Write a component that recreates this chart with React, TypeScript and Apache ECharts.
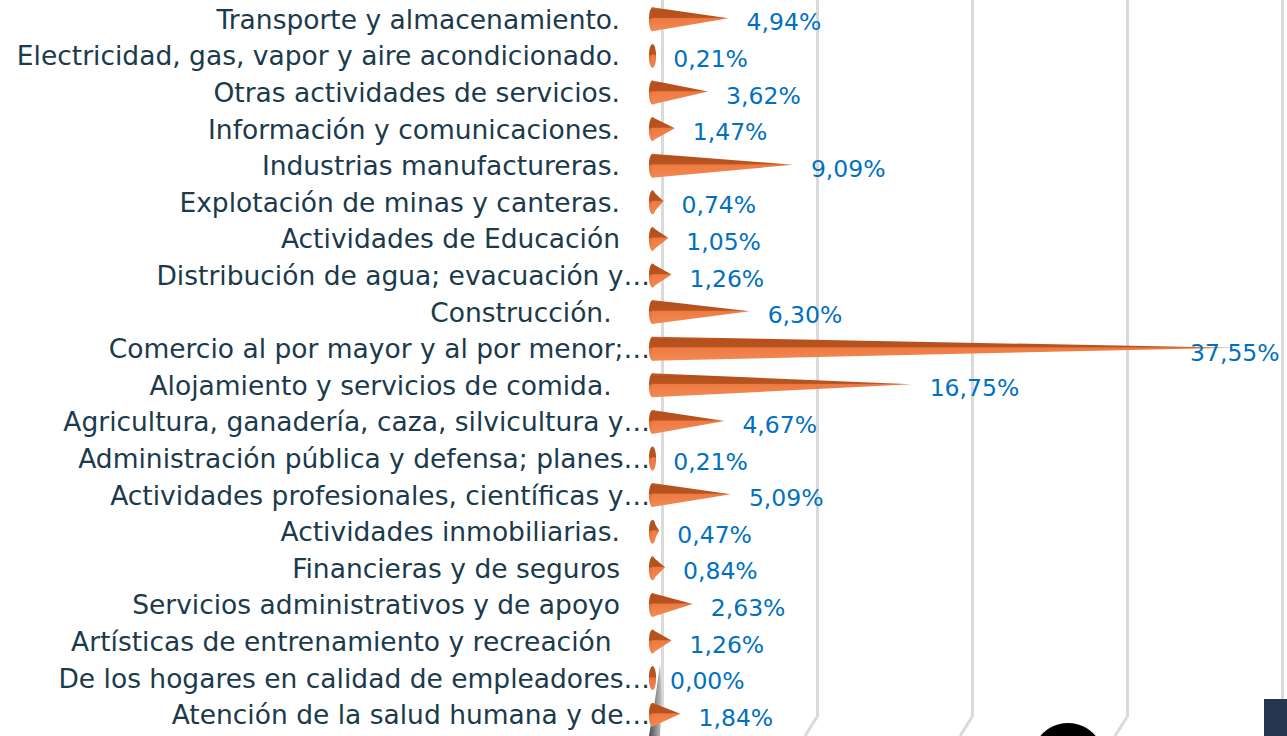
import React, { useEffect, useRef } from "react";
import * as echarts from "echarts";

const categories: string[] = [
  "Transporte y almacenamiento.",
  "Electricidad, gas, vapor y aire acondicionado.",
  "Otras actividades de servicios.",
  "Información y comunicaciones.",
  "Industrias manufactureras.",
  "Explotación de minas y canteras.",
  "Actividades de Educación",
  "Distribución de agua; evacuación y…",
  "Construcción. ",
  "Comercio al por mayor y al por menor;…",
  "Alojamiento y servicios de comida. ",
  "Agricultura, ganadería, caza, silvicultura y…",
  "Administración pública y defensa; planes…",
  "Actividades profesionales, científicas y…",
  "Actividades inmobiliarias.",
  "Financieras y de seguros",
  "Servicios administrativos y de apoyo",
  "Artísticas de entrenamiento y recreación ",
  "De los hogares en calidad de empleadores…",
  "Atención de la salud humana y de…",
];

const values: number[] = [
  4.94, 0.21, 3.62, 1.47, 9.09, 0.74, 1.05, 1.26, 6.3, 37.55, 16.75, 4.67,
  0.21, 5.09, 0.47, 0.84, 2.63, 1.26, 0.0, 1.84,
];

const xTicks: number[] = [0, 10, 20, 30, 40];

export default function App() {
  const ref = useRef<HTMLDivElement>(null);

  useEffect(() => {
    const chart = echarts.init(ref.current!, null, { renderer: "svg" });
    const fmt = (v: number) => v.toFixed(2).replace(".", ",") + "%";
    const maxV = Math.max(...values);
    const coneColor = new echarts.graphic.LinearGradient(0, 0, 0, 1, [
      { offset: 0, color: "#c9622a" },
      { offset: 0.12, color: "#b5501d" },
      { offset: 0.42, color: "#b85420" },
      { offset: 0.47, color: "#ee7a42" },
      { offset: 1, color: "#f28a54" },
    ]);
    const capColor = new echarts.graphic.LinearGradient(0, 0, 0, 1, [
      { offset: 0, color: "#b5501d" },
      { offset: 0.45, color: "#b85420" },
      { offset: 0.5, color: "#e8743c" },
      { offset: 1, color: "#f08450" },
    ]);

    chart.setOption({
      animation: false,
      grid: [
        { left: 652, right: 15, top: 1, bottom: 3 },
        { left: 662, right: 5, top: 0, bottom: 19 },
      ],
      xAxis: [
        { gridIndex: 0, type: "value", min: xTicks[0], max: xTicks[xTicks.length - 1], interval: 10, show: false },
        {
          gridIndex: 1,
          type: "value",
          min: xTicks[0],
          max: xTicks[xTicks.length - 1],
          interval: 10,
          axisLine: { show: false },
          axisTick: { show: false },
          axisLabel: { show: false },
          splitLine: { show: true, lineStyle: { color: "#dadada", width: 3 } },
        },
      ],
      yAxis: [
        {
          gridIndex: 0,
          type: "category",
          inverse: true,
          data: categories.map((c) =>
            c.endsWith("…") ? { value: c, textStyle: { padding: [0, -30, 0, 0] } } : c
          ),
          axisLine: { show: false },
          axisTick: { show: false },
          axisLabel: {
            margin: 32,
            fontFamily: "DejaVu Sans",
            fontSize: 26.5,
            color: "#1b3a4b",
            interval: 0,
          },
        },
        { gridIndex: 1, type: "category", show: false, data: categories },
      ],
      series: [
        {
          type: "pictorialBar",
          xAxisIndex: 0,
          yAxisIndex: 0,
          data: values,
          symbol: "circle",
          symbolSize: [7, 24],
          symbolPosition: "start",
          symbolOffset: [-3, 0],
          barGap: "-100%",
          itemStyle: { color: capColor },
          z: 2,
        },
        {
          type: "pictorialBar",
          xAxisIndex: 0,
          yAxisIndex: 0,
          data: values.map((v) =>
            v === maxV ? { value: v, label: { offset: [-62, 4] } } : v
          ),
          symbol: "path://M0,0 L100,46 L0,100 Z",
          symbolSize: ["100%", 24],
          symbolPosition: "start",
          barGap: "-100%",
          itemStyle: { color: coneColor },
          z: 3,
          label: {
            show: true,
            position: "right",
            distance: 18,
            offset: [0, 3],
            formatter: (p: any) => fmt(p.value),
            color: "#0070c0",
            fontFamily: "DejaVu Sans",
            fontSize: 23.5,
          },
        },
      ],
    });

    // 3D floor bends of the gridlines, derived from the axis scale
    const floorLines = xTicks.map((t) => {
      const x = chart.convertToPixel({ xAxisIndex: 1 }, t) as number;
      return {
        type: "line",
        shape: { x1: x, y1: 717, x2: x - 12, y2: 736 },
        style: { stroke: "#dadada", lineWidth: 3 },
        z: 1,
      };
    });

    chart.setOption({
      graphic: [
        ...floorLines,
        {
          type: "polygon",
          shape: { points: [[660, 664], [662, 700], [660, 736], [649, 736], [655, 700]] },
          style: {
            fill: new echarts.graphic.LinearGradient(0, 0, 1, 0, [
              { offset: 0, color: "#4a4a4a" },
              { offset: 1, color: "#c8c8c8" },
            ]),
          },
          z: 1,
        },
        {
          type: "circle",
          shape: { cx: 1068, cy: 759, r: 36 },
          style: { fill: "#000000" },
          z: 10,
        },
        {
          type: "rect",
          shape: { x: 1264, y: 699, width: 23, height: 37 },
          style: { fill: "#243650" },
          z: 10,
        },
      ],
    });

    return () => chart.dispose();
  }, []);

  return (
    <div
      ref={ref}
      style={{ position: "fixed", left: 0, top: 0, width: 1287, height: 736, background: "#ffffff" }}
    />
  );
}
